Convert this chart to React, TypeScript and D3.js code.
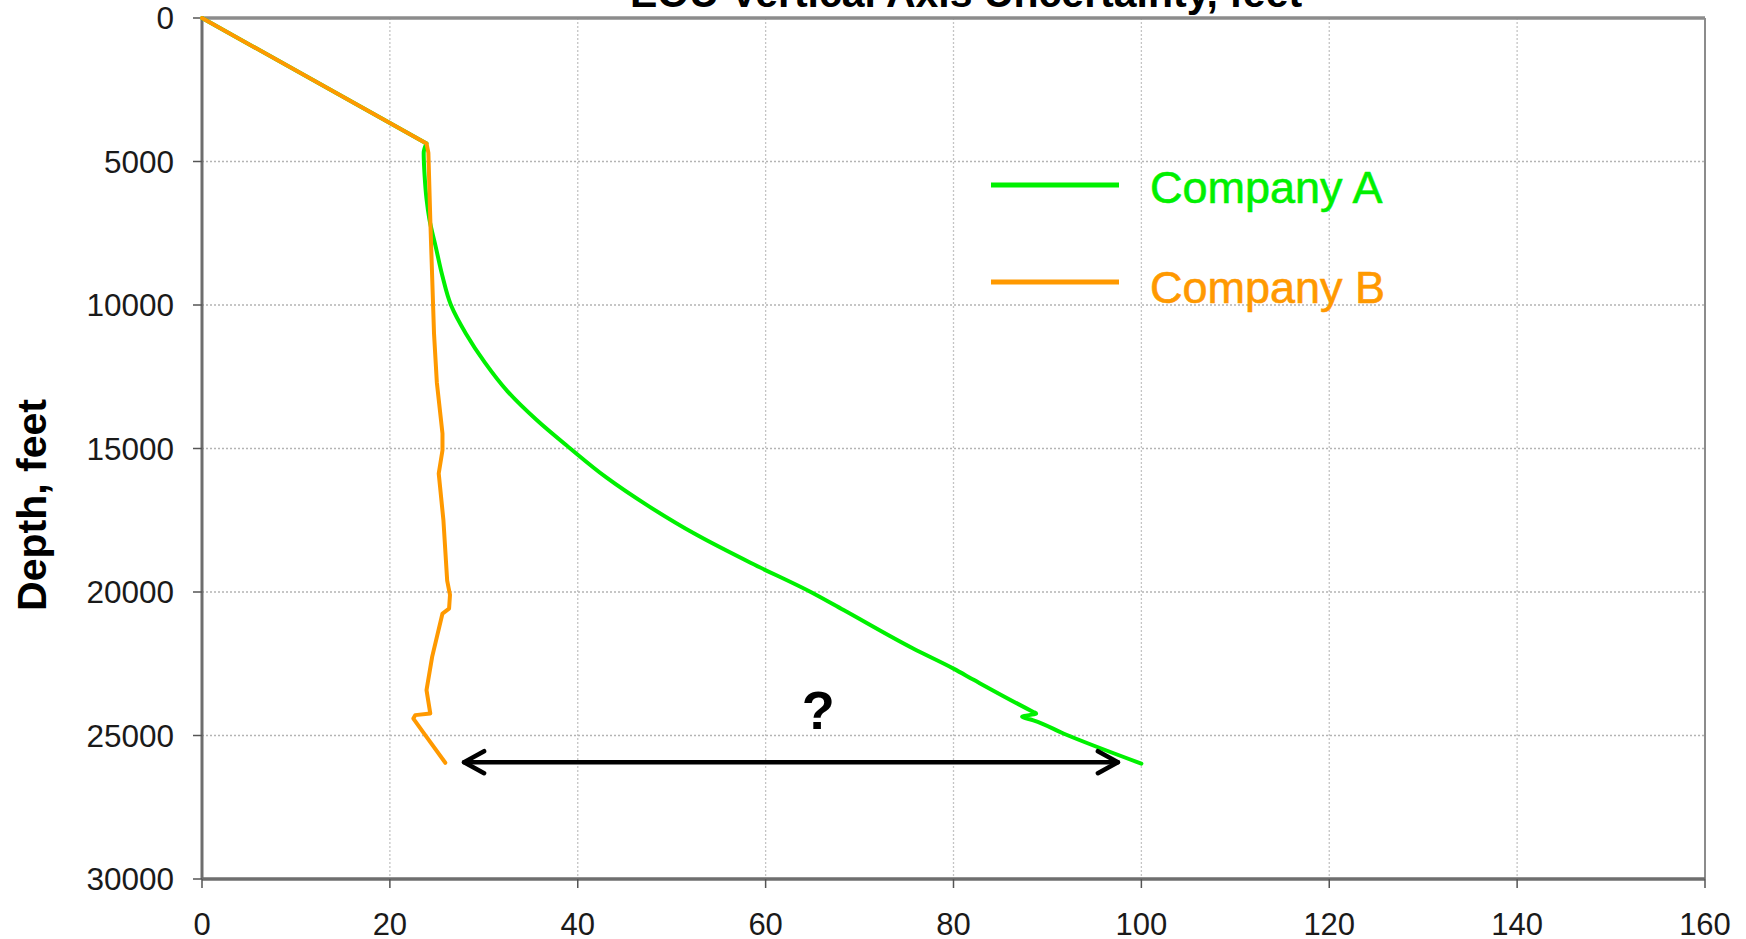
import { useEffect } from 'react';
import * as d3 from 'd3';

type Pt = [number, number];

// values: [uncertainty ft, depth ft]
const companyA: Pt[] = [
  [0, 0], [23.9, 4370], [23.6, 4700], [23.7, 5500], [23.9, 6300], [24.2, 7000],
  [24.9, 8000], [25.6, 9000], [26.5, 10000], [28.1, 11000], [30.1, 12000],
  [32.5, 13000], [35.6, 14000], [39.2, 15000], [43.0, 16000], [47.5, 17000],
  [52.6, 18000], [58.5, 19000], [64.8, 20000], [68.3, 20630],
  [75.7, 21970], [80.0, 22670], [82.2, 23070], [88.5, 24180], [88.8, 24230],
  [87.3, 24350], [88.5, 24470], [91.7, 24930], [100.0, 25980],
];

const companyB: Pt[] = [
  [0, 0], [23.9, 4370], [24.1, 4700], [24.3, 7000], [24.6, 10000], [24.7, 11000],
  [25.0, 12700], [25.6, 14480], [25.6, 15060], [25.2, 15870], [25.7, 17500],
  [26.1, 19600], [26.4, 20100], [26.3, 20580], [25.6, 20750], [24.5, 22260],
  [23.9, 23420], [24.3, 24230], [22.7, 24290], [22.5, 24410], [23.9, 25050],
  [25.9, 25950],
];

const xTicks = [0, 20, 40, 60, 80, 100, 120, 140, 160];
const yTicks = [0, 5000, 10000, 15000, 20000, 25000, 30000];
const seriesNames = ['Company A', 'Company B'];
const seriesColors = ['#00f000', '#ff9900'];

// the "?" gap annotation
const gapFrom = 27.9;
const gapTo = 97.5;
const gapDepth = 25930;
const gapLabelAt: Pt = [65.6, 24770];

const title = 'EOU Vertical Axis Uncertainty, feet';
const font = '"Liberation Sans", Arial, sans-serif';

export default function App() {
  useEffect(() => {
    document.body.style.margin = '0';
  }, []);

  const width = 1746;
  const height = 939;
  const x = d3.scaleLinear().domain([0, 160]).range([202, 1705]);
  const y = d3.scaleLinear().domain([0, 30000]).range([18, 879]);

  const smooth = d3
    .line<Pt>()
    .x((d) => x(d[0]))
    .y((d) => y(d[1]))
    .curve(d3.curveMonotoneY);
  const straight = d3
    .line<Pt>()
    .x((d) => x(d[0]))
    .y((d) => y(d[1]));

  // first leg of the green run is a straight build-up, the rest a smooth curve
  const greenPath = (straight(companyA.slice(0, 2)) ?? '') + (smooth(companyA.slice(1)) ?? '');

  const ay = y(gapDepth);
  const ax1 = x(gapFrom);
  const ax2 = x(gapTo);

  return (
    <svg
      width={width}
      height={height}
      style={{ display: 'block', position: 'absolute', left: 0, top: 0, background: '#fff' }}
      fontFamily={font}
    >
      {/* title, partly off the top */}
      <text x={966} y={7} textAnchor="middle" fontSize={41} fontWeight="bold" fill="#000">
        {title}
      </text>

      {/* grid */}
      {xTicks.slice(1, -1).map((t) => (
        <line key={'gx' + t} x1={x(t)} x2={x(t)} y1={y(0)} y2={y(30000)}
          stroke="#c4c4c4" strokeWidth={1.3} strokeDasharray="2,2" />
      ))}
      {yTicks.slice(1, -1).map((t) => (
        <line key={'gy' + t} x1={x(0)} x2={x(160)} y1={y(t)} y2={y(t)}
          stroke="#b4b4b4" strokeWidth={1.5} strokeDasharray="2,2" />
      ))}

      {/* frame */}
      <line x1={x(160)} x2={x(160)} y1={y(0)} y2={y(30000)} stroke="#8c8c8c" strokeWidth={2} />
      <line x1={x(0)} x2={x(160)} y1={y(0)} y2={y(0)} stroke="#8c8c8c" strokeWidth={3.5} />
      <line x1={x(0)} x2={x(160)} y1={y(30000)} y2={y(30000)} stroke="#6e6e6e" strokeWidth={3.5} />
      <line x1={x(0)} x2={x(0)} y1={y(0)} y2={y(30000)} stroke="#6e6e6e" strokeWidth={3} />

      {/* x ticks */}
      {xTicks.map((t) => (
        <g key={'xt' + t}>
          <line x1={x(t)} x2={x(t)} y1={y(30000)} y2={y(30000) + 9} stroke="#555" strokeWidth={1.5} />
          <text x={x(t)} y={935} textAnchor="middle" fontSize={31} fill="#1a1a1a">
            {t}
          </text>
        </g>
      ))}

      {/* y ticks */}
      {yTicks.map((t) => (
        <g key={'yt' + t}>
          <line x1={x(0) - 9} x2={x(0)} y1={y(t)} y2={y(t)} stroke="#555" strokeWidth={1.5} />
          <text x={174} y={y(t)} dy="0.36em" textAnchor="end" fontSize={31.5} fill="#1a1a1a">
            {t}
          </text>
        </g>
      ))}

      <text
        transform="translate(46,505) rotate(-90)"
        textAnchor="middle"
        fontSize={41}
        fontWeight="bold"
        fill="#000"
      >
        Depth, feet
      </text>

      {/* series */}
      <path d={greenPath} fill="none" stroke={seriesColors[0]} strokeWidth={4}
        strokeLinejoin="round" strokeLinecap="round" />
      <path d={straight(companyB) ?? ''} fill="none" stroke={seriesColors[1]} strokeWidth={4}
        strokeLinejoin="round" strokeLinecap="round" />

      {/* legend */}
      {seriesNames.map((name, i) => (
        <g key={name}>
          <line x1={991} x2={1119} y1={185 + i * 97} y2={185 + i * 97}
            stroke={seriesColors[i]} strokeWidth={5} />
          <text x={1150} y={203 + i * 100} fontSize={45} fill={seriesColors[i]}
            stroke={seriesColors[i]} strokeWidth={0.6}>
            {name}
          </text>
        </g>
      ))}

      {/* gap arrow */}
      <g stroke="#000" strokeWidth={4.5} fill="none" strokeLinecap="round" strokeLinejoin="round">
        <line x1={ax1} x2={ax2} y1={ay} y2={ay} />
        <path d={`M${ax1 + 20},${ay - 11}L${ax1},${ay}L${ax1 + 20},${ay + 11}`} />
        <path d={`M${ax2 - 20},${ay - 11}L${ax2},${ay}L${ax2 - 20},${ay + 11}`} />
      </g>
      <text x={x(gapLabelAt[0])} y={y(gapLabelAt[1])} textAnchor="middle" fontSize={54}
        fontWeight="bold" fill="#000">
        ?
      </text>
    </svg>
  );
}
